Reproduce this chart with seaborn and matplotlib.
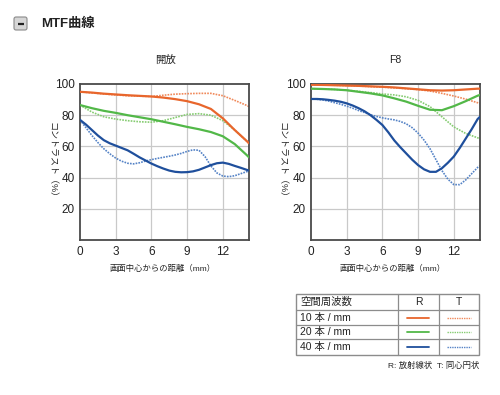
import numpy as np
import pandas as pd
import matplotlib
matplotlib.use("Agg")
import matplotlib.pyplot as plt
import seaborn as sns
from matplotlib.patches import FancyBboxPatch, Rectangle

# ---------------- data ----------------
image_height_mm = [0, 1, 2, 3, 4, 5, 6, 7, 8, 9, 10, 11, 12, 13, 14, 14.2]
image_height_fine = [0, 0.5, 1, 1.5, 2, 2.5, 3, 3.5, 4, 4.5, 5, 5.5, 6, 6.5, 7, 7.5,
                     8, 8.5, 9, 9.5, 10, 10.5, 11, 11.5, 12, 12.5, 13, 13.5, 14, 14.2]

# 開放 (wide open)
open_10R = [95, 94.5, 93.8, 93.3, 92.8, 92.4, 92, 91.3, 90.3, 89, 87, 84, 78, 70.5, 63.5, 62]
open_10T = [95, 94.3, 93.6, 93, 92.5, 92.2, 92, 92.8, 93.5, 93.8, 94, 94, 92.5, 89.5, 86.3, 85.5]
open_20R = [86.5, 84.5, 82.8, 81.5, 80, 78.7, 77.4, 75.8, 74.2, 72.5, 71, 69.2, 66.5, 61.5, 54.5, 53]
open_20T = [86.5, 82, 79, 77.5, 76.5, 75.8, 75.5, 76.5, 78.5, 80.5, 81, 80, 76.5, 70.5, 63.5, 62]
open_40R = [77, 74, 70.5, 67, 64, 62, 60.5, 59, 57.5, 55.3, 53, 51, 49, 47.3, 45.8, 44.5,
            43.7, 43.4, 43.5, 44, 45, 46.5, 48, 49.2, 49.6, 48.8, 47.5, 46.3, 45, 44.5]
open_40T = [77, 72, 67, 62.5, 58.5, 55.3, 52.5, 50.5, 49.2, 48.8, 49.5, 50.6, 51.5, 52.3, 53, 53.7,
            54.5, 55.5, 56.8, 57.8, 57.5, 53.5, 47.5, 43, 41, 40.6, 41.2, 42.5, 43.8, 44]

# F8
f8_10R = [99.5, 99.4, 99.2, 99, 98.8, 98.5, 98.2, 97.8, 97.2, 96.6, 96, 95.8, 96, 96.5, 97, 97]
f8_10T = [99.5, 99.4, 99.2, 99, 98.7, 98.3, 98, 97.5, 97, 96.4, 95.5, 94, 92.3, 90.3, 88, 87.5]
f8_20R = [97, 96.8, 96.5, 96, 95, 94, 92.7, 90.8, 88.7, 86, 83.5, 83.2, 85.8, 89, 92.5, 93]
f8_20T = [97, 96.8, 96.5, 96, 95.3, 94.5, 93.6, 93, 91.8, 89.5, 85.5, 79, 72.5, 68.3, 65.5, 65]
f8_40R = [90.4, 90.4, 90.2, 89.8, 89.3, 88.6, 87.6, 86.2, 84.5, 82.5, 80, 77, 73.7, 69, 63.8, 59.5,
          55.5, 51.5, 48, 45.3, 43.7, 43.7, 46, 49.5, 53.5, 59, 65, 71, 77.5, 79]
f8_40T = [90.4, 90.2, 89.8, 89, 88, 87, 85.8, 84.5, 83, 81.7, 80.3, 79.2, 78.3, 77.6, 77, 76,
          74.5, 72, 68.5, 64, 58.5, 51.5, 44.5, 39, 35.5, 35.5, 38.5, 42.5, 46.5, 47.5]

panel_titles = ["開放", "F8"]
x_ticks = [0, 3, 6, 9, 12]
y_ticks = [20, 40, 60, 80, 100]
freq_labels = ["10 本 / mm", "20 本 / mm", "40 本 / mm"]

# ---------------- style ----------------
sns.set_style("white")
plt.rcParams["font.family"] = ["Liberation Sans", "Noto Sans CJK JP", "DejaVu Sans"]

solid_colors = ["#e8662c", "#52b848", "#1f4f9c"]
dotted_colors = ["#f0895a", "#86cc72", "#5583c6"]
dot_style = (0, (1, 0.7))

W, H = 500, 395
fig = plt.figure(figsize=(W / 100, H / 100), dpi=100)
fig.patch.set_facecolor("white")

def px_axes(x0, y0, x1, y1):
    return fig.add_axes([x0 / W, 1 - y1 / H, (x1 - x0) / W, (y1 - y0) / H])

panels = [
    (px_axes(80, 84, 249, 240), [open_10R, open_20R, open_40R], [open_10T, open_20T, open_40T]),
    (px_axes(311, 84, 480, 240), [f8_10R, f8_20R, f8_40R], [f8_10T, f8_20T, f8_40T]),
]

for i, (ax, rs, ts) in enumerate(panels):
    ax.set_xlim(0, 14.2)
    ax.set_ylim(0, 100)
    for v in [3, 6, 9, 12]:
        ax.axvline(v, color="#c9c9c9", lw=0.9, zorder=0)
    for v in [20, 40, 60, 80]:
        ax.axhline(v, color="#c9c9c9", lw=0.9, zorder=0)
    for k in range(3):
        xs = image_height_fine if k == 2 else image_height_mm
        sns.lineplot(x=xs, y=ts[k], ax=ax, color=dotted_colors[k],
                     linestyle=dot_style, lw=1.2, zorder=2)
        sns.lineplot(x=xs, y=rs[k], ax=ax, color=solid_colors[k],
                     lw=1.6, zorder=3)
    ax.set_xticks(x_ticks)
    ax.set_yticks(y_ticks)
    ax.set_xticklabels([str(t) for t in x_ticks])
    ax.set_yticklabels([str(t) for t in y_ticks])
    ax.tick_params(length=0, labelsize=8.5, colors="#222222", pad=4)
    ax.set_xlabel("")
    ax.set_ylabel("")
    for s in ax.spines.values():
        s.set_visible(True)
        s.set_color("#4a4a4a")
        s.set_linewidth(1.3)

# panel texts
for cx, ylx, t in [(165, 52, panel_titles[0]), (395, 282, panel_titles[1])]:
    fig.text(cx / W, 1 - 60 / H, t, ha="center", va="center", fontsize=7.5, color="#222222")
    fig.text(cx / W - 0.004, 1 - 269 / H, "画面中心からの距離（mm）", ha="center", va="center",
             fontsize=6, color="#222222")
    fig.text(ylx / W, 1 - 162 / H, "コントラスト（%）", ha="center", va="center",
             fontsize=6.5, rotation=-90, color="#222222")

# overlay axes in pixel coordinates for header & legend table
ov = fig.add_axes([0, 0, 1, 1])
ov.set_xlim(0, W)
ov.set_ylim(H, 0)
ov.axis("off")
ov.patch.set_alpha(0)

# header icon + title
ov.add_patch(FancyBboxPatch((14, 17), 13, 13, boxstyle="round,pad=0,rounding_size=2",
                            fc="#d6d6d6", ec="#8a8a8a", lw=0.8))
ov.plot([17.5, 23.5], [23.7, 23.7], color="#222222", lw=1.6, solid_capstyle="butt")
ov.text(41, 23.7, "MTF曲線", ha="left", va="center", fontsize=9.5, fontweight="bold", color="#222222")

# legend table
tx0, tx1, ty0, ty1 = 296, 479, 294, 355
ov.add_patch(Rectangle((tx0, ty0), tx1 - tx0, ty1 - ty0, fc="white", ec="#8c8c8c", lw=1.0))
for yy in [310, 325, 339]:
    ov.plot([tx0, tx1], [yy, yy], color="#8c8c8c", lw=0.9)
for xx in [398, 439]:
    ov.plot([xx, xx], [ty0, ty1], color="#8c8c8c", lw=0.9)
ov.text(300, 302, "空間周波数", ha="left", va="center", fontsize=7.5, color="#222222")
ov.text(418.5, 302, "R", ha="center", va="center", fontsize=7.5, color="#222222")
ov.text(459, 302, "T", ha="center", va="center", fontsize=7.5, color="#222222")
row_y = [317.5, 332, 347]
for k in range(3):
    ov.text(300, row_y[k], freq_labels[k], ha="left", va="center", fontsize=7.5, color="#222222")
    ov.plot([407, 429], [row_y[k], row_y[k]], color=solid_colors[k], lw=1.3)
    ov.plot([447, 471], [row_y[k], row_y[k]], color=dotted_colors[k], lw=1.0, linestyle=dot_style)
ov.text(479, 366, "R: 放射線状  T: 同心円状", ha="right", va="center", fontsize=6, color="#222222")

fig.savefig("out.png", dpi=100, facecolor="white")
